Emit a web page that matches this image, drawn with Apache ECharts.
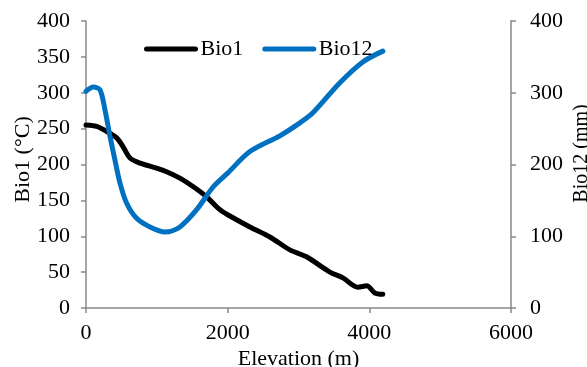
<!DOCTYPE html>
<html>
<head>
<meta charset="utf-8">
<script src="https://cdn.jsdelivr.net/npm/echarts@6/dist/echarts.min.js"></script>
<style>
  html, body { margin: 0; padding: 0; background: #fff; }
  #chart { width: 587px; height: 367px; }
</style>
</head>
<body>
<div id="chart"></div>
<script>
// Elevation (m) and mean annual temperature along the transect
const bio1Elevation = [0, 151, 292, 433, 522, 621, 762, 997, 1138, 1326, 1515, 1703, 1890, 2000, 2314, 2596, 2878, 3118, 3443, 3627, 3838, 3965, 4078, 4190];
const bio1Values    = [255, 253, 246, 237, 225, 209, 202, 195, 190, 181, 169, 155, 137, 130, 113, 99, 81, 71, 50, 42, 29, 31, 21, 19];

// Elevation (m) and annual precipitation along the transect
const bio12Elevation = [0, 103, 198, 268, 339, 409, 480, 574, 715, 903, 1115, 1326, 1562, 1797, 2000, 2314, 2737, 3020, 3203, 3584, 3909, 4190];
const bio12Values    = [302, 308, 304, 276, 239, 206, 174, 146, 125, 113, 106, 113, 137, 169, 188, 218, 240, 258, 272, 314, 343, 358];

const seriesNames = ['Bio1', 'Bio12'];
const xTicks = { min: 0, max: 6000, interval: 2000 };
const leftTicks = { min: 0, max: 400, interval: 50 };
const rightTicks = { min: 0, max: 400, interval: 100 };

const pair = (xs, ys) => xs.map((x, i) => [x, ys[i]]);

const font = 'Liberation Serif, Times New Roman, serif';
const fontSize = 22;
const axisGrey = '#898989';
const blue = '#0070C0';
// pill-shaped legend stroke with rounded ends
const pill = 'path://M2.5,0 L51.5,0 A2.5,2.5 0 0 1 51.5,5 L2.5,5 A2.5,2.5 0 0 1 2.5,0 Z';

const labelStyle = { fontFamily: font, fontSize: fontSize, color: '#000' };

const axisCommon = {
  axisLine: { show: true, lineStyle: { color: axisGrey, width: 1.5 } },
  axisTick: { show: true, inside: false, length: 5, lineStyle: { color: axisGrey, width: 1.5 } },
  splitLine: { show: false },
  nameLocation: 'middle',
  nameMoveOverlap: false
};

const chart = echarts.init(document.getElementById('chart'), null, { renderer: 'canvas' });
chart.setOption({
  animation: false,
  backgroundColor: '#fff',
  grid: { left: 86, right: 76, top: 21, bottom: 59, containLabel: false, outerBoundsMode: 'none' },
  legend: {
    data: seriesNames.map((n) => ({ name: n, icon: pill })),
    left: 139,
    top: 33,
    itemWidth: 55,
    itemHeight: 5,
    itemGap: 19,
    textStyle: Object.assign({ padding: [0, 0, 0, -3] }, labelStyle)
  },
  xAxis: Object.assign({}, axisCommon, {
    type: 'value',
    min: xTicks.min, max: xTicks.max, interval: xTicks.interval,
    name: 'Elevation (m)',
    nameGap: 40,
    nameTextStyle: labelStyle,
    axisLabel: Object.assign({ margin: 14, formatter: v => String(v) }, labelStyle)
  }),
  yAxis: [
    Object.assign({}, axisCommon, {
      type: 'value',
      position: 'left',
      min: leftTicks.min, max: leftTicks.max, interval: leftTicks.interval,
      name: 'Bio1 (°C)',
      nameGap: 52,
      nameRotate: 90,
      nameTextStyle: Object.assign({ padding: [0, 0, 0, 10] }, labelStyle),
      axisLabel: Object.assign({ margin: 16 }, labelStyle)
    }),
    Object.assign({}, axisCommon, {
      type: 'value',
      position: 'right',
      min: rightTicks.min, max: rightTicks.max, interval: rightTicks.interval,
      name: 'Bio12 (mm)',
      nameGap: 61,
      nameRotate: 90,
      nameTextStyle: Object.assign({ padding: [0, 0, 0, 22] }, labelStyle, { fontSize: 20 }),
      axisLabel: Object.assign({ margin: 19 }, labelStyle)
    })
  ],
  series: [
    {
      name: seriesNames[0],
      type: 'line',
      yAxisIndex: 0,
      data: pair(bio1Elevation, bio1Values),
      smooth: 0.3,
      symbol: 'none',
      itemStyle: { color: '#000' },
      lineStyle: { color: '#000', width: 5, cap: 'round', join: 'round' }
    },
    {
      name: seriesNames[1],
      type: 'line',
      yAxisIndex: 1,
      data: pair(bio12Elevation, bio12Values),
      smooth: 0.3,
      symbol: 'none',
      itemStyle: { color: blue },
      lineStyle: { color: blue, width: 5, cap: 'round', join: 'round' }
    }
  ]
});
</script>
</body>
</html>
